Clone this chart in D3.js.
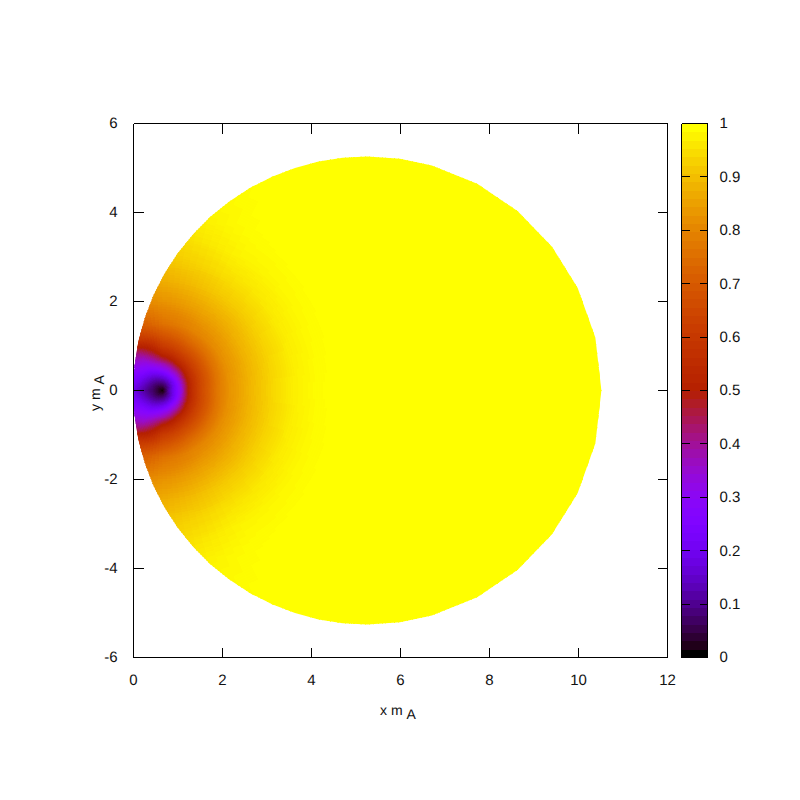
<!DOCTYPE html>
<html>
<head>
<meta charset="utf-8">
<title>Map of x m_A, y m_A</title>
<script src="https://cdnjs.cloudflare.com/ajax/libs/d3/7.8.5/d3.min.js"></script>
<style>
html,body{margin:0;padding:0;background:#fff}
svg{display:block}
text{font-family:"Liberation Sans",Arial,sans-serif;font-size:15px;fill:#111;text-rendering:geometricPrecision}
.axis-title{font-size:14px}
.tick line,.domain{stroke:#000;stroke-width:1;shape-rendering:crispEdges}
</style>
</head>
<body>
<svg id="chart" width="800" height="800"></svg>
<script>
// Axis ticks
const xTicks = [0, 2, 4, 6, 8, 10, 12];
const yTicks = [-6, -4, -2, 0, 2, 4, 6];
const cbTicks = [0, 0.1, 0.2, 0.3, 0.4, 0.5, 0.6, 0.7, 0.8, 0.9, 1];
const xAxisLabel = "x m";
const yAxisLabel = "y m";
const subscript = "A";
const barLevels = 64;
const fieldLevels = 256;

// Disc outline: the plotted region (degrees on the upper half, mirrored)
const discCentreX = 5.254;
const discRadius = 5.26;
const outlineAngles = [0, 13, 26, 38, 50, 62, 74, 82, 90, 96, 102, 108, 114, 120, 126, 132, 138, 144, 150, 156, 162, 168, 174, 180];

// The minimum of the field
const minimumX = 0.656;

// Readings of the colour value: direction from the minimum (degrees, 0 = +x), distance from it
const directions = [0, 30, 60, 90, 120, 150, 180];
const distances = [0, 0.1, 0.2, 0.3, 0.4, 0.5, 0.6, 0.7, 0.85, 1, 1.25, 1.5, 2, 2.5, 3, 3.5, 4, 5, 6, 10];
const valuesDir0   = [0, .08, .16, .23, .31, .42, .52, .58, .65, .70, .78, .83, .895, .945, .98, .995, 1, 1, 1, 1];
const valuesDir30  = [0, .07, .14, .21, .30, .40, .49, .56, .63, .68, .76, .82, .885, .935, .972, .99, .998, 1, 1, 1];
const valuesDir60  = [0, .06, .12, .19, .28, .36, .44, .52, .60, .66, .74, .80, .865, .92, .958, .984, .995, 1, 1, 1];
const valuesDir90  = [0, .045, .10, .16, .23, .31, .37, .45, .54, .61, .69, .76, .83, .88, .92, .945, .97, .985, .995, 1];
const valuesDir120 = [0, .04, .08, .125, .175, .23, .28, .32, .37, .43, .57, .66, .77, .85, .90, .935, .96, .985, .995, 1];
const valuesDir150 = [0, .03, .065, .10, .14, .18, .22, .25, .29, .32, .37, .43, .60, .75, .85, .90, .94, .98, .99, 1];
const valuesDir180 = [0, .03, .06, .08, .105, .13, .16, .19, .23, .27, .33, .40, .55, .70, .80, .88, .93, .97, .99, 1];
const valueTable = [valuesDir0, valuesDir30, valuesDir60, valuesDir90, valuesDir120, valuesDir150, valuesDir180];

const svg = d3.select("#chart");
const x = d3.scaleLinear().domain([0, 12]).range([133.5, 667.5]);
const y = d3.scaleLinear().domain([-6, 6]).range([657.5, 123.5]);
const cb = d3.scaleLinear().domain([0, 1]).range([657.5, 123.5]);

// gnuplot's default pm3d palette (rgbformulae 7,5,15)
function palette(g) {
  const c = t => Math.round(255 * Math.max(0, Math.min(1, t)));
  return d3.rgb(c(Math.sqrt(g)), c(g * g * g), c(Math.sin(2 * Math.PI * g))).formatHex();
}
const levelOf = v => Math.min(fieldLevels - 1, Math.floor(v * fieldLevels));
const fieldColour = d3.range(fieldLevels).map(i => palette(i / (fieldLevels - 1)));
const barColour = d3.range(barLevels).map(i => palette(i / (barLevels - 1)));

// Bilinear lookup in the reading table
function valueAt(dirDeg, dist) {
  const i = Math.min(directions.length - 2, Math.max(0, d3.bisectRight(directions, dirDeg) - 1));
  const j = Math.min(distances.length - 2, Math.max(0, d3.bisectRight(distances, dist) - 1));
  const s = (dirDeg - directions[i]) / (directions[i + 1] - directions[i]);
  const t = (dist - distances[j]) / (distances[j + 1] - distances[j]);
  const a = valueTable[i][j] + (valueTable[i][j + 1] - valueTable[i][j]) * t;
  const b = valueTable[i + 1][j] + (valueTable[i + 1][j + 1] - valueTable[i + 1][j]) * t;
  return a + (b - a) * s;
}

// Disc clip
const outlinePoints = outlineAngles.map(a => [a, 1])
  .concat(outlineAngles.slice(1, -1).reverse().map(a => [a, -1]))
  .map(([a, sign]) => [
    x(discCentreX + discRadius * Math.cos(a * Math.PI / 180)),
    y(sign * discRadius * Math.sin(a * Math.PI / 180))
  ]);
svg.append("clipPath").attr("id", "disc")
  .append("polygon")
  .attr("shape-rendering", "crispEdges")
  .attr("points", outlinePoints.map(p => p.join(",")).join(" "));

// Colour field, one path per palette level
const paths = d3.range(fieldLevels).map(() => d3.path());
const dirStep = 3;
const radial = [];
distances.slice(0, -1).forEach((d, j) => {
  const next = distances[j + 1];
  const n = Math.max(2, Math.ceil((next - d) / (d < 1.5 ? 0.02 : 0.06)));
  d3.range(n).forEach(k => radial.push(d + (next - d) * k / n));
});
radial.push(distances[distances.length - 1]);
const pt = (a, r, sign) => [
  x(minimumX + r * Math.cos(a * Math.PI / 180)),
  y(sign * r * Math.sin(a * Math.PI / 180))
];
d3.range(0, 180, dirStep).forEach(a => {
  radial.slice(0, -1).forEach((r, j) => {
    const r2 = radial[j + 1];
    const p = paths[levelOf(valueAt(a + dirStep / 2, (r + r2) / 2))];
    [1, -1].forEach(sign => {
      const q = [pt(a, r, sign), pt(a, r2, sign), pt(a + dirStep, r2, sign), pt(a + dirStep, r, sign)];
      p.moveTo(q[0][0], q[0][1]);
      p.lineTo(q[1][0], q[1][1]);
      p.lineTo(q[2][0], q[2][1]);
      p.lineTo(q[3][0], q[3][1]);
      p.closePath();
    });
  });
});
svg.append("g").attr("clip-path", "url(#disc)")
  .selectAll("path").data(paths).join("path")
  .attr("d", p => p.toString())
  .attr("fill", (p, i) => fieldColour[i])
  .attr("stroke", (p, i) => fieldColour[i])
  .attr("stroke-width", 0.8)
  .attr("shape-rendering", "crispEdges");

// Axes: ticks point inwards on all four sides; labels use a plain hyphen as in the reference
const fmt = d => String(d);
svg.append("g").attr("transform", `translate(0,${y(-6)})`)
  .call(d3.axisBottom(x).tickValues(xTicks).tickSize(-10).tickSizeOuter(0).tickPadding(17).tickFormat(fmt).offset(0));
svg.append("g").attr("transform", `translate(0,${y(6)})`)
  .call(d3.axisTop(x).tickValues(xTicks).tickSize(-10).tickSizeOuter(0).tickFormat("").offset(0));
svg.append("g").attr("transform", `translate(${x(0)},0)`)
  .call(d3.axisLeft(y).tickValues(yTicks).tickSize(-10).tickSizeOuter(0).tickPadding(16).tickFormat(fmt).offset(0));
svg.append("g").attr("transform", `translate(${x(12)},0)`)
  .call(d3.axisRight(y).tickValues(yTicks).tickSize(-10).tickSizeOuter(0).tickFormat("").offset(0));

// Colour bar
const cbLeft = 681.5, cbRight = 707.5;
const bandEdge = i => cb(i / barLevels);
svg.append("g").selectAll("rect").data(d3.range(barLevels)).join("rect")
  .attr("x", cbLeft).attr("width", cbRight - cbLeft)
  .attr("y", i => bandEdge(i + 1))
  .attr("height", i => bandEdge(i) - bandEdge(i + 1) + 0.5)
  .attr("fill", i => barColour[i])
  .attr("shape-rendering", "crispEdges");
svg.append("g").attr("transform", `translate(${cbLeft},0)`)
  .call(d3.axisRight(cb).tickValues(cbTicks).tickSize(8).tickSizeOuter(0).tickFormat("").offset(0));
svg.append("g").attr("transform", `translate(${cbRight},0)`)
  .call(d3.axisLeft(cb).tickValues(cbTicks).tickSize(8).tickSizeOuter(0).tickFormat("").offset(0));
svg.append("g").attr("transform", `translate(${cbRight},0)`)
  .call(d3.axisRight(cb).tickValues(cbTicks).tickSize(0).tickSizeOuter(0).tickPadding(12).tickFormat(fmt).offset(0))
  .select(".domain").remove();
svg.append("g").attr("transform", `translate(0,${cb(0)})`)
  .call(d3.axisBottom(d3.scaleLinear().domain([0, 1]).range([cbLeft, cbRight])).tickValues([]).tickSizeOuter(0).offset(0));
svg.append("g").attr("transform", `translate(0,${cb(1)})`)
  .call(d3.axisTop(d3.scaleLinear().domain([0, 1]).range([cbLeft, cbRight])).tickValues([]).tickSizeOuter(0).offset(0));
svg.selectAll(".tick text").attr("fill", "#111");

// Axis titles with a subscript
const xt = svg.append("text").attr("class", "axis-title").attr("x", 380).attr("y", 715);
xt.append("tspan").text(xAxisLabel);
xt.append("tspan").attr("dx", 4).attr("dy", 4).text(subscript);
const yt = svg.append("text").attr("class", "axis-title").attr("transform", "translate(100,411) rotate(-90)");
yt.append("tspan").text(yAxisLabel);
yt.append("tspan").attr("dx", 4).attr("dy", 4).text(subscript);
</script>
</body>
</html>
